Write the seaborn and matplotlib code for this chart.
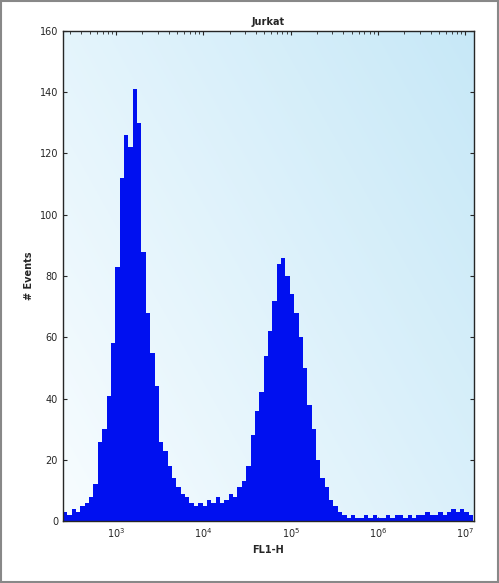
import numpy as np
import matplotlib
matplotlib.use('Agg')
import matplotlib.pyplot as plt
import seaborn as sns

# log10 bin centres (step 0.05 decade) and event counts
log_start = 2.39
log_step = 0.05
counts = [3, 2, 4, 3, 5, 6, 8, 12, 26, 30,
          41, 58, 83, 112, 126, 122, 141, 130, 88, 68,
          55, 44, 26, 23, 18, 14, 11, 9, 8, 6,
          5, 6, 5, 7, 6, 8, 6, 7, 9, 8,
          11, 13, 18, 28, 36, 42, 54, 62, 72, 84,
          86, 80, 74, 68, 60, 50, 38, 30, 20, 14,
          11, 7, 5, 3, 2, 1, 2, 1, 1, 2,
          1, 2, 1, 1, 2, 1, 2, 2, 1, 2,
          1, 2, 2, 3, 2, 2, 3, 2, 3, 4,
          3, 4, 3, 2]
centres = [10 ** (log_start + log_step * (i + 0.5)) for i in range(len(counts))]
yticks = [0, 20, 40, 60, 80, 100, 120, 140, 160]

sns.set_style('ticks')
plt.rcParams['font.family'] = ['DejaVu Sans']

fig = plt.figure(figsize=(4.99, 5.83), dpi=100)
ax = fig.add_axes([0.126, 0.106, 0.824, 0.841])

# pale blue gradient background
grad = np.linspace(0, 1, 256)
gx, gy = np.meshgrid(grad, grad)
g = np.clip(0.6 * gx + 0.4 * (1 - gy), 0, 1)
c0 = np.array([0.97, 0.99, 1.0])
c1 = np.array([0.78, 0.91, 0.97])
img = c0 + g[..., None] * (c1 - c0)
ax.imshow(img, extent=[0, 1, 0, 1], transform=ax.transAxes, aspect='auto',
          origin='upper', zorder=0)

sns.histplot(x=centres, weights=counts, log_scale=True, binwidth=log_step,
             binrange=(log_start, log_start + log_step * len(counts)),
             element='bars', fill=True, color='#0010f0', alpha=1,
             linewidth=0, ax=ax, zorder=2)

ax.set_xlim(10 ** 2.39, 10 ** 7.10)
ax.set_ylim(0, 160)
ax.set_yticks(yticks)
ax.set_xticks([1e3, 1e4, 1e5, 1e6, 1e7])
ax.tick_params(labelsize=7, length=3, width=0.8, top=True, right=True, direction='in')
ax.tick_params(axis='x', which='minor', top=True, direction='in', length=2)
ax.set_xlabel('FL1-H', fontsize=7, fontweight='bold')
ax.set_ylabel('# Events', fontsize=7, fontweight='bold')
ax.set_title('Jurkat', fontsize=7, fontweight='bold', pad=4)
for s in ax.spines.values():
    s.set_linewidth(1.0)

fig.patches.append(plt.Rectangle((0.002, 0.002), 0.996, 0.996, transform=fig.transFigure,
                                 fill=False, edgecolor='#888888', linewidth=1.5))
fig.savefig('out.png', dpi=100)
